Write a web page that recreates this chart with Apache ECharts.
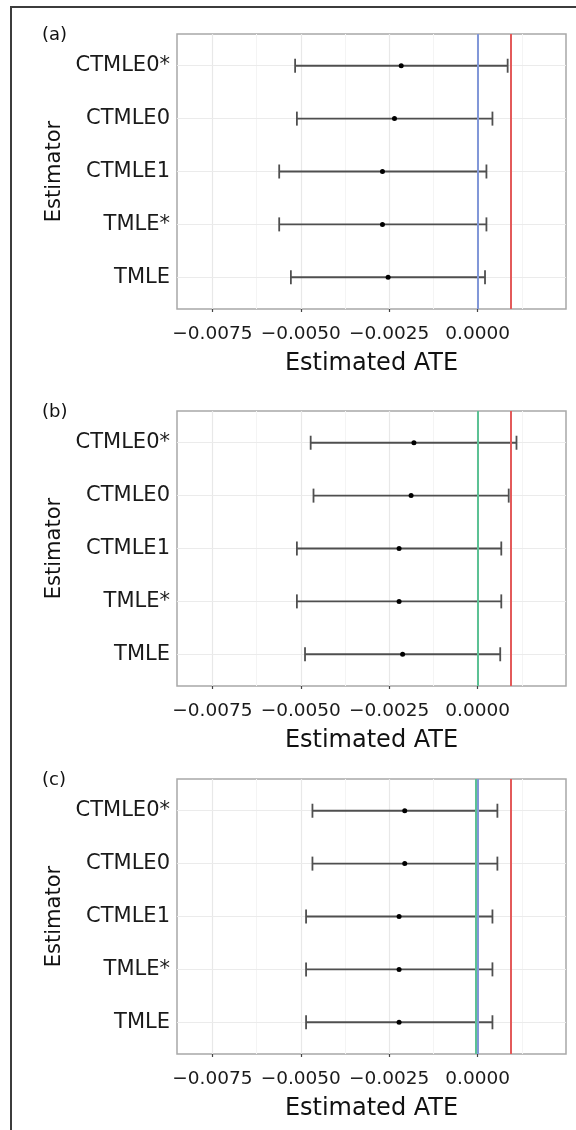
<!DOCTYPE html>
<html>
<head>
<meta charset="utf-8">
<script src="https://cdn.jsdelivr.net/npm/echarts@6/dist/echarts.min.js"></script>
<style>
  html, body { margin: 0; padding: 0; background: #fff; }
  #chart { width: 576px; height: 1130px; }
</style>
</head>
<body>
<div id="chart"></div>
<script>
// estimators, listed bottom to top as they sit on the y axis
const estimators = ['TMLE', 'TMLE*', 'CTMLE1', 'CTMLE0', 'CTMLE0*'];
const panelTags = ['(a)', '(b)', '(c)'];
const xTicks = [-0.0075, -0.005, -0.0025, 0];
const xMinorTicks = [-0.00625, -0.00375, -0.00125, 0.00125];
const xLimits = [-0.0085, 0.0025];

// panel (a)
const lowA  = [-0.00528, -0.00561, -0.00561, -0.00511, -0.00516];
const estA  = [-0.00253, -0.00269, -0.00269, -0.00235, -0.00216];
const highA = [0.00021, 0.00025, 0.00025, 0.00042, 0.00085];
// panel (b)
const lowB  = [-0.00488, -0.00511, -0.00511, -0.00464, -0.00472];
const estB  = [-0.00212, -0.00222, -0.00222, -0.00188, -0.00180];
const highB = [0.00064, 0.00067, 0.00067, 0.00088, 0.00110];
// panel (c)
const lowC  = [-0.00485, -0.00485, -0.00485, -0.00467, -0.00467];
const estC  = [-0.00222, -0.00222, -0.00222, -0.00206, -0.00206];
const highC = [0.00042, 0.00042, 0.00042, 0.00056, 0.00056];

// reference lines per panel (null = not drawn)
const refBlue  = [0, null, 0];
const refGreen = [null, 0, -0.00006];
const refRed   = [0.00095, 0.00095, 0.00095];

const lows = [lowA, lowB, lowC];
const ests = [estA, estB, estC];
const highs = [highA, highB, highC];

const FONT = 'DejaVu Sans';
const gridTops = [34, 411, 779];
const plotH = 275;
const barColor = '#4f4f4f';

const fmtX = v => (v < 0 ? '\u2212' : '') + Math.abs(v).toFixed(4);

const grids = [], xAxes = [], yAxes = [], series = [], titles = [];

gridTops.forEach((top, p) => {
  const points = estimators.map((n, i) => [ests[p][i], i + 1]);

  grids.push({
    left: 177, width: 389, top: top, height: plotH,
    show: true, borderColor: '#a8a8a8', borderWidth: 1.5, backgroundColor: '#fff'
  });
  titles.push({
    text: panelTags[p], left: 42, top: top - 8, padding: 0,
    textStyle: { fontFamily: FONT, fontSize: 18, fontWeight: 'normal', color: '#111' }
  });
  xAxes.push({
    type: 'value', gridIndex: p, min: xLimits[0], max: xLimits[1],
    name: 'Estimated ATE', nameLocation: 'middle', nameGap: 43,
    nameTextStyle: { fontFamily: FONT, fontSize: 24, color: '#111' },
    axisLine: { show: false },
    axisTick: { show: true, length: 3, customValues: xTicks, lineStyle: { color: '#444', width: 1.2 } },
    axisLabel: { customValues: xTicks, formatter: fmtX, fontFamily: FONT, fontSize: 18.5, color: '#1a1a1a', margin: 16 },
    splitLine: { show: false }
  });
  yAxes.push({
    type: 'value', gridIndex: p, min: 0.4, max: 5.6,
    name: 'Estimator', nameLocation: 'middle', nameRotate: 90, nameGap: 109,
    nameTextStyle: { fontFamily: FONT, fontSize: 21, color: '#111' },
    axisLine: { show: false },
    axisTick: { show: true, length: 3, customValues: [1, 2, 3, 4, 5], lineStyle: { color: '#444', width: 1.2 } },
    axisLabel: {
      customValues: [1, 2, 3, 4, 5], formatter: v => estimators[Math.round(v) - 1],
      fontFamily: FONT, fontSize: 21, color: '#1a1a1a', margin: 7
    },
    splitLine: { show: false }
  });

  // panel grid lines (minor, major) under everything, hung on a hidden copy of the points
  const gridLines = []
    .concat(xMinorTicks.map(v => ({ xAxis: v, lineStyle: { color: '#f4f4f4', width: 1 } })))
    .concat(xTicks.map(v => ({ xAxis: v, lineStyle: { color: '#e8e8e8', width: 1.2 } })))
    .concat(estimators.map((n, i) => ({ yAxis: i + 1, lineStyle: { color: '#ebebeb', width: 1.2 } })));
  series.push({
    type: 'scatter', xAxisIndex: p, yAxisIndex: p, z: 1, silent: true,
    symbolSize: 0, itemStyle: { opacity: 0 }, data: points,
    markLine: { z: 1, precision: 8, silent: true, symbol: ['none', 'none'], label: { show: false }, lineStyle: { type: 'solid' }, data: gridLines }
  });

  // error bars
  series.push({
    type: 'custom', xAxisIndex: p, yAxisIndex: p, z: 10, silent: true,
    data: estimators.map((n, i) => [i + 1, lows[p][i], highs[p][i]]),
    encode: { x: [1, 2], y: 0 },
    renderItem: (params, api) => {
      const y = api.value(0);
      const a = api.coord([api.value(1), y]);
      const b = api.coord([api.value(2), y]);
      const cap = 7;
      const st = { stroke: barColor, lineWidth: 1.8 };
      return {
        type: 'group',
        children: [
          { type: 'line', shape: { x1: a[0], y1: a[1], x2: b[0], y2: b[1] }, style: st },
          { type: 'line', shape: { x1: a[0], y1: a[1] - cap, x2: a[0], y2: a[1] + cap }, style: st },
          { type: 'line', shape: { x1: b[0], y1: b[1] - cap, x2: b[0], y2: b[1] + cap }, style: st }
        ]
      };
    }
  });

  // vertical reference lines
  const refs = [];
  if (refGreen[p] !== null) refs.push({ xAxis: refGreen[p], lineStyle: { color: '#5cc194' } });
  if (refBlue[p] !== null) refs.push({ xAxis: refBlue[p], lineStyle: { color: '#8197d8' } });
  refs.push({ xAxis: refRed[p], lineStyle: { color: '#e35a5a' } });

  // point estimates
  series.push({
    type: 'scatter', xAxisIndex: p, yAxisIndex: p, z: 11, silent: true,
    symbol: 'circle', symbolSize: 5, itemStyle: { color: '#000', opacity: 1 },
    data: points,
    markLine: { z: 12, precision: 8, silent: true, symbol: ['none', 'none'], label: { show: false }, lineStyle: { type: 'solid', width: 2 }, data: refs }
  });
});

const chart = echarts.init(document.getElementById('chart'), null, { renderer: 'canvas' });
chart.setOption({
  animation: false,
  backgroundColor: '#fff',
  title: titles,
  grid: grids,
  xAxis: xAxes,
  yAxis: yAxes,
  series: series,
  graphic: [{
    type: 'rect', silent: true, z: 100,
    shape: { x: 11, y: 7, width: 620, height: 1200 },
    style: { fill: 'none', stroke: '#3c3c3c', lineWidth: 2 }
  }]
});
</script>
</body>
</html>
